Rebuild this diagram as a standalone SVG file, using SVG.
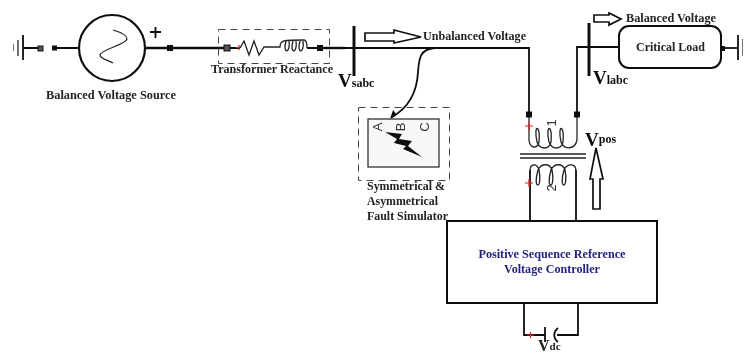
<svg xmlns="http://www.w3.org/2000/svg" width="744" height="354" viewBox="0 0 744 354">
<style>
.w{fill:none;stroke:#111;stroke-width:1.8}
.t{fill:none;stroke:#111;stroke-width:2.4}
.thin{fill:none;stroke:#222;stroke-width:1.3}
.dash{fill:none;stroke:#444;stroke-width:1;stroke-dasharray:7 5}
.sq{fill:#111;stroke:none}
.hs{fill:#555;stroke:#111;stroke-width:1}
.arr{fill:#fff;stroke:#111;stroke-width:1.7}
.red{stroke:#d22;stroke-width:1.2;fill:none}
text{font-family:"Liberation Serif","Times New Roman",serif;font-weight:bold;fill:#222}
.s{font-size:11.500px}
.v{font-size:19px;fill:#111}
.sub{font-size:12px;fill:#111}
.pin{font-family:"Liberation Sans",Arial,sans-serif;font-weight:normal;font-size:13px;fill:#333}
</style>
<defs><filter id="soft" x="0" y="0" width="100%" height="100%"><feGaussianBlur stdDeviation="0.4"/></filter></defs>
<rect width="744" height="354" fill="#fff"/>
<g filter="url(#soft)">
<g id="connectors">
<path class="w" d="M23 48H40M54 48H80"/>
<path class="t" d="M145 48H226"/>
<path class="w" d="M226 48H240M307 48H319"/>
<path class="t" d="M319 48H345"/>
<path class="w" d="M345 48H529V114"/>
<path class="w" d="M435 48C420 49 419 58 418 72C417 92 408 108 392 117"/>
<path class="sq" d="M390 119L393 110L397 115Z"/>
<path class="w" d="M577 114V47H619"/>
<path class="w" d="M721 48H738"/>
<path class="thin" d="M529 114V140M577 114V140"/>
<path class="w" d="M530 170V221M576 170V221"/>
<path class="w" d="M524 303V335H545M578 303V335H557"/>
</g>
<g id="ground-left">
<path class="thin" d="M13 44V51M18 40V56"/>
<path class="w" d="M23 35V60"/>
<rect class="hs" x="38" y="46" width="5" height="5"/>
<rect class="sq" x="52" y="45.500" width="5" height="5"/>
</g>
<g id="source">
<circle cx="112" cy="48" r="33" fill="#fff" stroke="#111" stroke-width="2.200"/>
<path class="thin" d="M113 30C120 32 127 35 127 39C127 44 100 50 100 55C100 59 108 60 113 63"/>
<path class="w" d="M150 32H161M155.500 27V38"/>
<rect class="sq" x="167" y="45" width="6" height="6"/>
<text class="s" x="46" y="99" textLength="130" lengthAdjust="spacingAndGlyphs">Balanced Voltage Source</text>
</g>
<g id="transformer-reactance">
<rect class="dash" x="218.500" y="29.500" width="111" height="34"/>
<rect class="hs" x="224" y="45" width="6" height="6" fill="#333"/>
<path class="red" d="M236 47.500H241M239 45V50"/>
<path class="thin" d="M240 48L244 41L249 55L254 41L259 55L264 47H280C280 40 283 40 304 40C307 40 307 48 307 48"/>
<path class="thin" d="M286 41C282 54 291 54 289 41M293 41C289 54 298 54 296 41M300 41C296 54 305 54 303 41"/>
<rect class="sq" x="317" y="45" width="6" height="6"/>
<text class="s" x="211" y="73" textLength="122" lengthAdjust="spacingAndGlyphs">Transformer Reactance</text>
</g>
<g id="bus-sabc">
<path d="M354 26V76" fill="none" stroke="#111" stroke-width="3"/>
<text class="v" x="338" y="87">V<tspan class="sub" dy="0">sabc</tspan></text>
</g>
<g id="unbalanced-label">
<path class="arr" d="M365 33H394V30L421 37L394 43V41H365Z"/>
<text class="s" x="423" y="40" textLength="103" lengthAdjust="spacingAndGlyphs">Unbalanced Voltage</text>
</g>
<g id="fault-simulator">
<rect class="dash" x="358.500" y="107.500" width="91" height="73"/>
<rect x="368" y="119" width="71" height="48" fill="#f8f8f8" stroke="#333" stroke-width="1.300"/>
<text class="pin" transform="translate(379 127) rotate(-90)" text-anchor="middle" dominant-baseline="middle">A</text>
<text class="pin" transform="translate(402 127) rotate(-90)" text-anchor="middle" dominant-baseline="middle">B</text>
<text class="pin" transform="translate(426 127) rotate(-90)" text-anchor="middle" dominant-baseline="middle">C</text>
<path d="M385 132L402 134L399 139L412 141L408 146L422 157L403 149L406 146L394 143L397 139Z" fill="#111"/>
<text class="s" x="367" y="190" textLength="78" lengthAdjust="spacingAndGlyphs">Symmetrical &amp;</text>
<text class="s" x="367" y="205" textLength="71" lengthAdjust="spacingAndGlyphs">Asymmetrical</text>
<text class="s" x="367" y="220" textLength="81" lengthAdjust="spacingAndGlyphs">Fault Simulator</text>
</g>
<g id="transformer">
<rect class="sq" x="526" y="111.500" width="6" height="6"/>
<rect class="sq" x="574" y="111.500" width="6" height="6"/>
<path class="red" d="M525 126H533M529 122V130"/>
<path class="thin" d="M529 140C530 149 537 149 539 142C541 124 533 124 537 142C540 150 549 150 551 142C553 124 545 124 549 142C552 150 561 150 563 142C565 124 557 124 561 142C564 150 575 150 577 140"/>
<path class="thin" d="M520 154H586M520 158H586"/>
<path class="thin" d="M530 171C530 163 537 163 539 170C543 190 532 190 538 170C541 163 550 163 552 170C556 190 545 190 551 170C554 163 563 163 565 170C569 190 558 190 564 170C567 163 576 163 576 171"/>
<path class="red" d="M525 183H533M529 179V187"/>
<text class="pin" transform="translate(553 123) rotate(-90)" text-anchor="middle" dominant-baseline="middle">1</text>
<text class="pin" transform="translate(553 188) rotate(-90)" text-anchor="middle" dominant-baseline="middle">2</text>
</g>
<g id="vpos">
<path class="arr" d="M596 148L590 179H593V209H600V179H603Z"/>
<text class="v" x="585" y="146">V<tspan class="sub" dy="-3">pos</tspan></text>
</g>
<g id="bus-labc">
<path d="M589 23V76" fill="none" stroke="#111" stroke-width="3"/>
<text class="v" x="593" y="84">V<tspan class="sub" dy="0">labc</tspan></text>
</g>
<g id="balanced-label">
<path class="arr" d="M594 15H609V13L621 19L609 25V22H594Z"/>
<text class="s" x="626" y="22" textLength="90" lengthAdjust="spacingAndGlyphs">Balanced Voltage</text>
</g>
<g id="critical-load">
<rect x="619" y="26" width="102" height="42" rx="10" ry="10" fill="#fff" stroke="#111" stroke-width="2"/>
<text x="636" y="51" font-size="12" textLength="69" lengthAdjust="spacingAndGlyphs">Critical Load</text>
</g>
<g id="ground-right">
<rect class="sq" x="722" y="46" width="3" height="5"/>
<path class="w" d="M738 35V60"/>
<path class="thin" d="M743 39V56"/>
</g>
<g id="controller">
<rect x="447" y="221" width="210" height="82" fill="#fff" stroke="#111" stroke-width="2"/>
<text x="552" y="258" font-size="11.500" text-anchor="middle" style="fill:#24247f" textLength="147" lengthAdjust="spacingAndGlyphs">Positive Sequence Reference</text>
<text x="552" y="273" font-size="11.500" text-anchor="middle" style="fill:#24247f" textLength="96" lengthAdjust="spacingAndGlyphs">Voltage Controller</text>
</g>
<g id="capacitor">
<path class="red" d="M527 335H534M530.500 332V338"/>
<path class="w" d="M545 327V342"/>
<path class="w" d="M558 328C553 332 553 338 558 342"/>
<text x="538" y="351" font-size="16" fill="#111">V<tspan font-size="11" dy="-1">dc</tspan></text>
</g>
</g>
</svg>
